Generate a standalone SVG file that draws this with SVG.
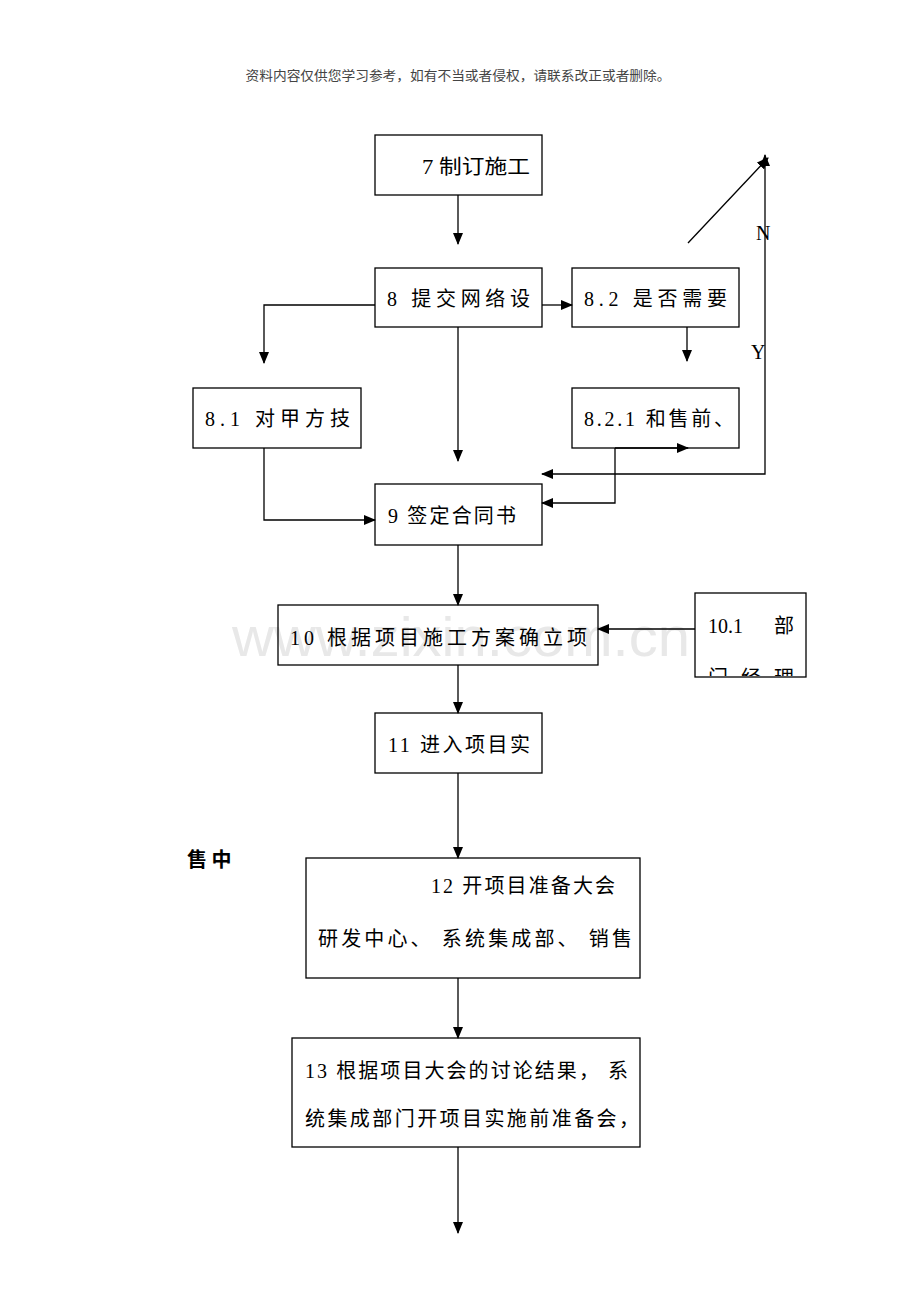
<svg xmlns="http://www.w3.org/2000/svg" width="920" height="1302" viewBox="0 0 920 1302">
<defs>
<marker id="ah" markerWidth="12" markerHeight="10" refX="11" refY="5" orient="auto" markerUnits="userSpaceOnUse">
<path d="M0,0 L12,5 L0,10 Z" fill="#000"/>
</marker>
<clipPath id="c101"><rect x="696" y="594" width="109" height="82"/></clipPath>
</defs>
<style>
.box{fill:none;stroke:#000;stroke-width:1.3}
.t{font-family:"Liberation Serif","Noto Sans CJK SC",serif;font-size:20px;fill:#000}
.c{fill:none;stroke:#000;stroke-width:1.3}
.a{marker-end:url(#ah)}
</style>
<rect width="920" height="1302" fill="#fff"/>
<text x="458" y="80" text-anchor="middle" font-family="'Noto Sans CJK SC',sans-serif" font-size="13" fill="#444" textLength="425" lengthAdjust="spacingAndGlyphs">资料内容仅供您学习参考，如有不当或者侵权，请联系改正或者删除。</text>
<text x="232" y="656" font-family="'Liberation Sans',sans-serif" font-size="56" fill="#e8e8e8" textLength="458" lengthAdjust="spacingAndGlyphs">www.zixin.com.cn</text>

<g id="connectors">
<line class="c a" x1="458" y1="195" x2="458" y2="244"/>
<polyline class="c a" points="375,305 264,305 264,363"/>
<line class="c a" x1="542" y1="305" x2="572" y2="305"/>
<line class="c a" x1="687" y1="327" x2="687" y2="361"/>
<line class="c a" x1="458" y1="327" x2="458" y2="461"/>
<polyline class="c a" points="264,448 264,520 375,520"/>
<line class="c a" x1="615" y1="448" x2="688" y2="448"/>
<polyline class="c a" points="615,448 615,503 542,503"/>
<polyline class="c a" points="765,350 765,474 542,474"/>
<line class="c a" x1="765" y1="350" x2="765" y2="155"/>
<line class="c a" x1="688" y1="243" x2="768" y2="158"/>
<line class="c a" x1="458" y1="545" x2="458" y2="605"/>
<line class="c a" x1="695" y1="629" x2="598" y2="629"/>
<line class="c a" x1="458" y1="665" x2="458" y2="713"/>
<line class="c a" x1="458" y1="773" x2="458" y2="858"/>
<line class="c a" x1="458" y1="978" x2="458" y2="1038"/>
<line class="c a" x1="458" y1="1147" x2="458" y2="1233"/>
<text class="t" x="756" y="240" font-size="18">N</text>
<text class="t" x="751" y="359" font-size="18">Y</text>
</g>

<g id="n7"><rect class="box" x="375" y="135" width="167" height="60"/><text class="t" x="422" y="174" textLength="108" lengthAdjust="spacingAndGlyphs">7 制订施工</text></g>
<g id="n8"><rect class="box" x="375" y="268" width="167" height="59"/><text class="t" x="387" y="306" textLength="143" lengthAdjust="spacing">8 提交网络设</text></g>
<g id="n82"><rect class="box" x="572" y="268" width="167" height="59"/><text class="t" x="584" y="306" textLength="143" lengthAdjust="spacing">8.2 是否需要</text></g>
<g id="n81"><rect class="box" x="193" y="388" width="168" height="60"/><text class="t" x="205" y="426" textLength="145" lengthAdjust="spacing">8.1 对甲方技</text></g>
<g id="n821"><rect class="box" x="572" y="388" width="167" height="60"/><text class="t" x="584" y="426" textLength="150" lengthAdjust="spacing">8.2.1 和售前、</text></g>
<g id="n9"><rect class="box" x="375" y="484" width="167" height="61"/><text class="t" x="388" y="523" textLength="128" lengthAdjust="spacing">9 签定合同书</text></g>
<g id="n10"><rect class="box" x="278" y="605" width="320" height="60"/><text class="t" x="290" y="645" textLength="297" lengthAdjust="spacing">10 根据项目施工方案确立项</text></g>
<g id="n101"><rect class="box" x="695" y="593" width="111" height="84"/>
<g clip-path="url(#c101)"><text class="t" x="708" y="633" xml:space="preserve">10.1  <tspan x="774">部</tspan></text><text class="t" x="708" y="685" textLength="86" lengthAdjust="spacing">门经理</text></g></g>
<g id="n11"><rect class="box" x="375" y="713" width="167" height="60"/><text class="t" x="388" y="752" textLength="142" lengthAdjust="spacing">11 进入项目实</text></g>
<g id="label"><text x="187" y="867" font-family="'Noto Sans CJK SC',sans-serif" font-size="20" font-weight="bold" fill="#000">售 中</text></g>
<g id="n12"><rect class="box" x="306" y="858" width="334" height="120"/><text class="t" x="431" y="893" textLength="184" lengthAdjust="spacing">12 开项目准备大会</text><text class="t" x="318" y="946" textLength="314" lengthAdjust="spacing">研发中心、 系统集成部、 销售</text></g>
<g id="n13"><rect class="box" x="292" y="1038" width="348" height="109"/><text class="t" x="305" y="1078" textLength="323" lengthAdjust="spacing">13 根据项目大会的讨论结果， 系</text><text class="t" x="305" y="1126" textLength="334" lengthAdjust="spacing">统集成部门开项目实施前准备会，</text></g>
</svg>
